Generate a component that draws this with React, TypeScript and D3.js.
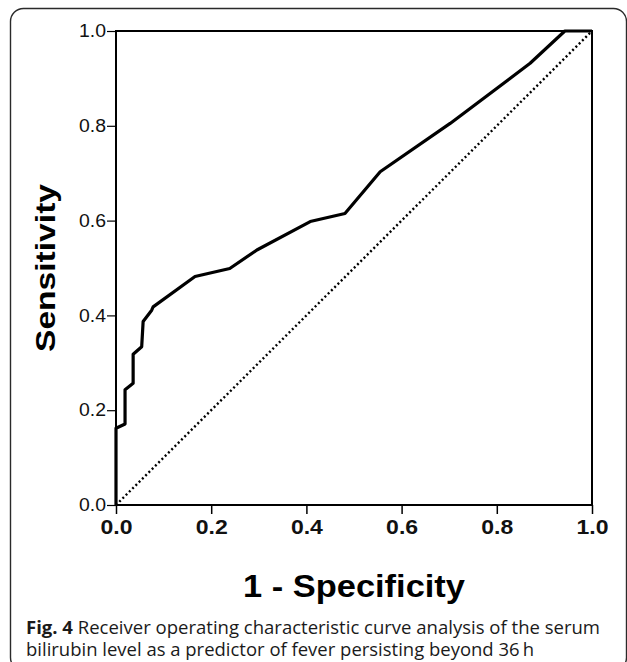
import React, { useRef, useEffect } from "react";
import * as d3 from "d3";

// ROC curve (1 - specificity, sensitivity)
const fpr = [0, 0, 0.019, 0.019, 0.036, 0.036, 0.054, 0.057, 0.075, 0.078, 0.166, 0.239, 0.296, 0.408, 0.481, 0.555, 0.702, 0.87, 0.943, 1.0];
const tpr = [0, 0.162, 0.171, 0.243, 0.257, 0.318, 0.334, 0.387, 0.411, 0.418, 0.482, 0.499, 0.538, 0.598, 0.615, 0.703, 0.805, 0.932, 1.0, 1.0];
const tickValues = [0, 0.2, 0.4, 0.6, 0.8, 1.0];

const xTitle = "1 - Specificity";
const yTitle = "Sensitivity";
const captionBold = "Fig. 4";
const captionLine1 = " Receiver operating characteristic curve analysis of the serum";
const captionLine2 = "bilirubin level as a predictor of fever persisting beyond 36\u2009h";

const App = () => {
  const svgRef = useRef<SVGSVGElement>(null);

  useEffect(() => {
    const width = 627, height = 662;
    const plot = { left: 116, right: 592, top: 31, bottom: 505 };
    const axisFont = "'Liberation Sans', Arial, sans-serif";
    const captionFont = "'Open Sans', sans-serif";

    const svg = d3.select(svgRef.current)
      .attr("width", width)
      .attr("height", height)
      .style("background", "#fff");

    svg.selectAll("*").remove();

    // outer rounded frame (runs past the right and bottom edges)
    svg.append("rect")
      .attr("x", 10.5)
      .attr("y", 8.5)
      .attr("width", 616)
      .attr("height", 662)
      .attr("rx", 13)
      .attr("fill", "none")
      .attr("stroke", "#2a2a2a")
      .attr("stroke-width", 1.4);

    const x = d3.scaleLinear().domain([0, 1]).range([plot.left, plot.right]);
    const y = d3.scaleLinear().domain([0, 1]).range([plot.bottom, plot.top]);

    // reference diagonal
    svg.append("line")
      .attr("x1", x(0)).attr("y1", y(0))
      .attr("x2", x(1)).attr("y2", y(1))
      .attr("stroke", "#000")
      .attr("stroke-width", 2.4)
      .attr("stroke-dasharray", "2 2.6");

    // ROC curve
    const pts = fpr.map((f, i) => [f, tpr[i]] as [number, number]);
    const line = d3.line<[number, number]>()
      .x(d => x(d[0]))
      .y(d => y(d[1]));

    svg.append("path")
      .datum(pts)
      .attr("d", line)
      .attr("fill", "none")
      .attr("stroke", "#000")
      .attr("stroke-width", 3.2)
      .attr("stroke-linejoin", "round");

    // plot frame
    svg.append("rect")
      .attr("x", plot.left)
      .attr("y", plot.top)
      .attr("width", plot.right - plot.left)
      .attr("height", plot.bottom - plot.top)
      .attr("fill", "none")
      .attr("stroke", "#000")
      .attr("stroke-width", 2);

    // y axis
    const yAxis = svg.append("g")
      .attr("transform", `translate(${plot.left},0)`)
      .call(d3.axisLeft(y).tickValues(tickValues).tickFormat(d3.format(".1f")).tickSize(9).tickPadding(1));
    yAxis.select(".domain").remove();
    yAxis.selectAll("line").attr("stroke", "#000").attr("stroke-width", 1.2);
    yAxis.selectAll("text")
      .attr("font-family", axisFont)
      .attr("font-size", 18)
      .attr("fill", "#111")
      .attr("textLength", 27)
      .attr("lengthAdjust", "spacingAndGlyphs");

    // x axis
    const xAxis = svg.append("g")
      .attr("transform", `translate(0,${plot.bottom})`)
      .call(d3.axisBottom(x).tickValues(tickValues).tickFormat(d3.format(".1f")).tickSize(9).tickPadding(6));
    xAxis.select(".domain").remove();
    xAxis.selectAll("line").attr("stroke", "#000").attr("stroke-width", 1.5);
    xAxis.selectAll("text")
      .attr("font-family", axisFont)
      .attr("font-size", 20)
      .attr("font-weight", "bold")
      .attr("fill", "#111")
      .attr("textLength", 32)
      .attr("lengthAdjust", "spacingAndGlyphs");

    // axis titles
    svg.append("text")
      .attr("x", (plot.left + plot.right) / 2)
      .attr("y", 597)
      .attr("text-anchor", "middle")
      .attr("font-family", axisFont)
      .attr("font-size", 31)
      .attr("font-weight", "bold")
      .attr("textLength", 222)
      .attr("lengthAdjust", "spacingAndGlyphs")
      .text(xTitle);

    svg.append("text")
      .attr("transform", `translate(55,${(plot.top + plot.bottom) / 2}) rotate(-90)`)
      .attr("text-anchor", "middle")
      .attr("font-family", axisFont)
      .attr("font-size", 28)
      .attr("font-weight", "bold")
      .attr("textLength", 168)
      .attr("lengthAdjust", "spacingAndGlyphs")
      .text(yTitle);

    // caption
    const cap1 = svg.append("text")
      .attr("x", 26)
      .attr("y", 634)
      .attr("font-family", captionFont)
      .attr("font-size", 17.5)
      .attr("fill", "#1a1a1a")
      .attr("textLength", 574)
      .attr("lengthAdjust", "spacingAndGlyphs");
    cap1.append("tspan").attr("font-weight", "bold").text(captionBold);
    cap1.append("tspan").text(captionLine1);

    svg.append("text")
      .attr("x", 26)
      .attr("y", 656)
      .attr("font-family", captionFont)
      .attr("font-size", 17.5)
      .attr("fill", "#1a1a1a")
      .attr("textLength", 508)
      .attr("lengthAdjust", "spacingAndGlyphs")
      .text(captionLine2);
  }, []);

  return (
    <div style={{ position: "absolute", left: 0, top: 0 }}>
      <svg ref={svgRef}></svg>
    </div>
  );
};

export default App;
